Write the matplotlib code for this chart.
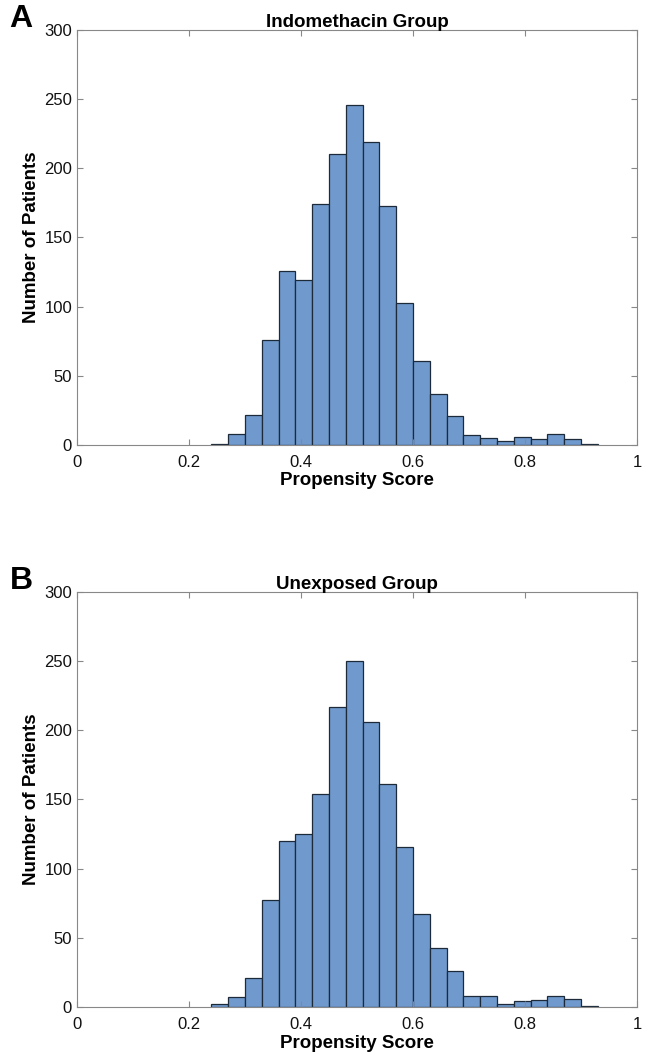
import matplotlib.pyplot as plt

# histogram bins: 0.24 .. 0.93, width 0.03
bin_left = [0.24, 0.27, 0.30, 0.33, 0.36, 0.39, 0.42, 0.45, 0.48, 0.51, 0.54, 0.57,
            0.60, 0.63, 0.66, 0.69, 0.72, 0.75, 0.78, 0.81, 0.84, 0.87, 0.90]
bin_width = 0.03

indo_counts = [1, 8, 22, 76, 126, 119, 174, 210, 246, 219, 173, 103,
               61, 37, 21, 7, 5, 3, 6, 4, 8, 4, 1]
unexp_counts = [2, 7, 21, 77, 120, 125, 154, 217, 250, 206, 161, 116,
                67, 43, 26, 8, 8, 2, 4, 5, 8, 6, 1]

titles = ['Indomethacin Group', 'Unexposed Group']
letters = ['A', 'B']
xticks = [0, 0.2, 0.4, 0.6, 0.8, 1]
xticklabels = ['0', '0.2', '0.4', '0.6', '0.8', '1']
yticks = [0, 50, 100, 150, 200, 250, 300]

plt.rcParams['font.family'] = ['Liberation Sans', 'DejaVu Sans']

fig = plt.figure(figsize=(6.46, 10.56), dpi=100)
boxes = [[0.119, 0.5786, 0.867, 0.393], [0.119, 0.0464, 0.867, 0.393]]

for pos, counts, title, letter in zip(boxes, [indo_counts, unexp_counts], titles, letters):
    ax = fig.add_axes(pos)
    ax.bar(bin_left, counts, width=bin_width, align='edge',
           color='#7099cd', edgecolor='#1c2a3a', linewidth=0.9)
    ax.set_xlim(0, 1)
    ax.set_ylim(0, 300)
    ax.set_xticks(xticks)
    ax.set_xticklabels(xticklabels)
    ax.set_yticks(yticks)
    ax.tick_params(direction='in', top=True, right=True, length=4,
                   labelsize=12, colors='#888888', labelcolor='#111111', width=0.8)
    ax.tick_params(axis='x', pad=7)
    for s in ax.spines.values():
        s.set_color('#888888')
        s.set_linewidth(0.8)
    ax.set_title(title, fontsize=13.5, fontweight='bold', pad=2)
    ax.set_xlabel('Propensity Score', fontsize=13.5, fontweight='bold', labelpad=2)
    ax.set_ylabel('Number of Patients', fontsize=13.5, fontweight='bold', labelpad=3)
    ax.text(-0.12, 1.027, letter, transform=ax.transAxes, fontsize=23,
            fontweight='bold', va='center', ha='left')

fig.savefig('out.png', dpi=100)
